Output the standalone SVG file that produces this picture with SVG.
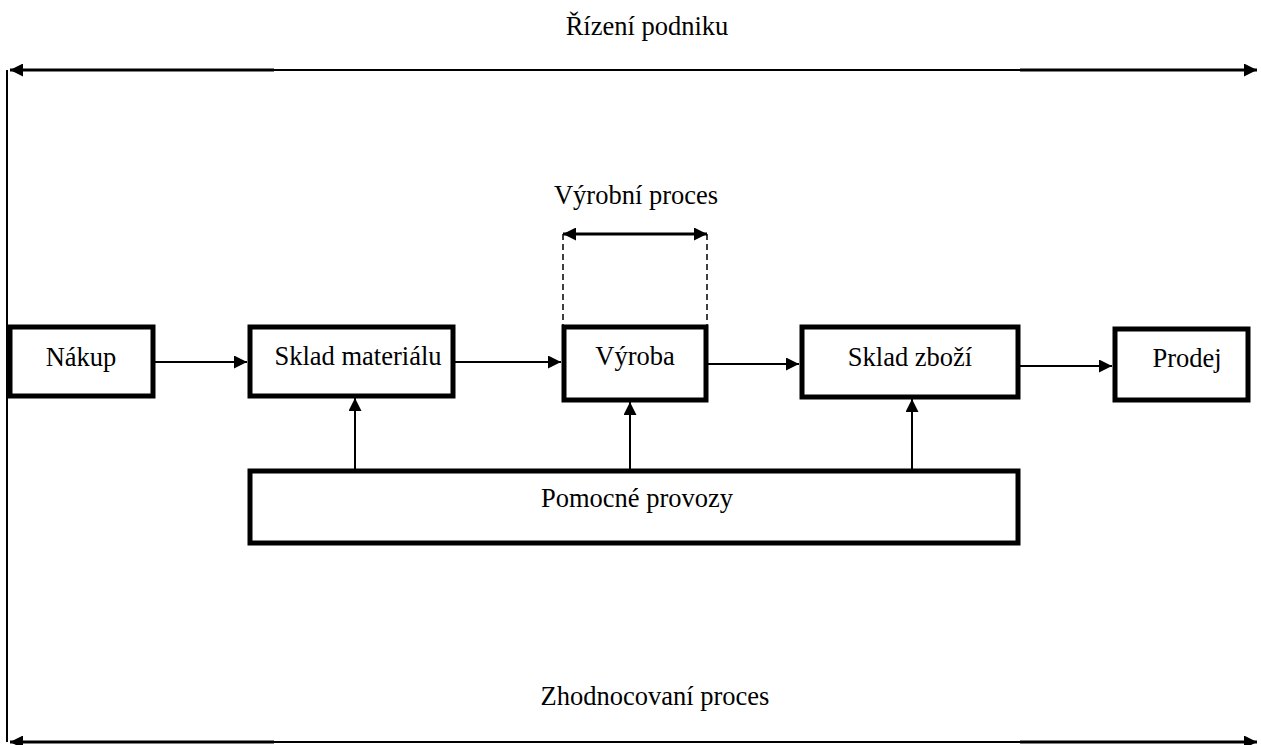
<svg xmlns="http://www.w3.org/2000/svg" width="1261" height="745" viewBox="0 0 1261 745">
<defs>
<marker id="ah" viewBox="0 0 10 10" refX="10" refY="5" markerWidth="15" markerHeight="13" markerUnits="userSpaceOnUse" orient="auto-start-reverse"><path d="M0,0L10,5L0,10Z" fill="#000"/></marker>
</defs>
<style>
.box{fill:#fff;stroke:#000;stroke-width:5}
.t{font-family:"Liberation Serif","Times New Roman",serif;font-size:26.5px;fill:#000;text-anchor:middle}
.ln{stroke:#000;stroke-width:2;fill:none}
.thick{stroke:#000;stroke-width:3;fill:none}
.dash{stroke:#000;stroke-width:1.5;stroke-dasharray:6,4;fill:none}
</style>
<rect width="1261" height="745" fill="#fff"/>
<text class="t" x="647" y="35">Řízení podniku</text>
<text class="t" x="636" y="204">Výrobní proces</text>
<text class="t" x="655" y="705">Zhodnocovaní proces</text>
<g id="connectors">
<line class="ln" x1="7" y1="70" x2="7" y2="742"/>
<line class="thick" x1="10" y1="70" x2="274" y2="70" marker-start="url(#ah)"/>
<line class="ln" x1="274" y1="70" x2="1020" y2="70"/>
<line class="thick" x1="1020" y1="70" x2="1257" y2="70" marker-end="url(#ah)"/>
<line class="thick" x1="10" y1="742" x2="274" y2="742" marker-start="url(#ah)"/>
<line class="ln" x1="274" y1="742" x2="1020" y2="742"/>
<line class="thick" x1="1020" y1="742" x2="1257" y2="742" marker-end="url(#ah)"/>
<line class="dash" x1="563" y1="234" x2="563" y2="325"/>
<line class="dash" x1="707" y1="234" x2="707" y2="325"/>
<line class="thick" x1="563" y1="234" x2="707" y2="234" marker-start="url(#ah)" marker-end="url(#ah)"/>
<line class="ln" x1="155" y1="362" x2="247" y2="362" marker-end="url(#ah)"/>
<line class="ln" x1="455" y1="362" x2="561" y2="362" marker-end="url(#ah)"/>
<line class="ln" x1="708" y1="364" x2="799" y2="364" marker-end="url(#ah)"/>
<line class="ln" x1="1020" y1="366" x2="1112" y2="366" marker-end="url(#ah)"/>
<line class="ln" x1="355" y1="469" x2="355" y2="398" marker-end="url(#ah)"/>
<line class="ln" x1="630" y1="469" x2="630" y2="402" marker-end="url(#ah)"/>
<line class="ln" x1="912" y1="469" x2="912" y2="399" marker-end="url(#ah)"/>
</g>
<g id="nakup"><rect class="box" x="10" y="327" width="143" height="69"/><text class="t" x="81" y="366">Nákup</text></g>
<g id="sklad-materialu"><rect class="box" x="250" y="327" width="203" height="69"/><text class="t" x="358" y="365">Sklad materiálu</text></g>
<g id="vyroba"><rect class="box" x="564" y="327" width="142" height="73"/><text class="t" x="635" y="365">Výroba</text></g>
<g id="sklad-zbozi"><rect class="box" x="802" y="327" width="216" height="70"/><text class="t" x="910" y="366">Sklad zboží</text></g>
<g id="prodej"><rect class="box" x="1115" y="329" width="133" height="71"/><text class="t" x="1187" y="367">Prodej</text></g>
<g id="pomocne-provozy"><rect class="box" x="250" y="471" width="768" height="72"/><text class="t" x="637" y="507">Pomocné provozy</text></g>
</svg>
